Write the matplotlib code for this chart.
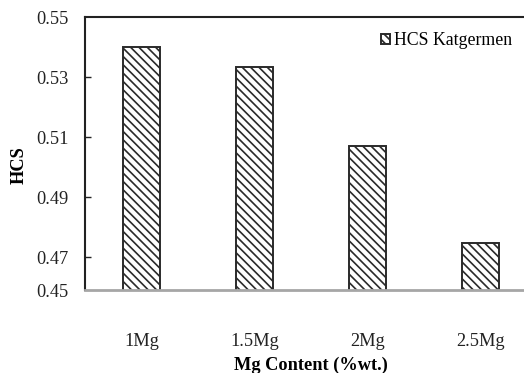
import numpy as np
import matplotlib
matplotlib.use("Agg")
import matplotlib.pyplot as plt

########### data ###########
categories = ["1Mg", "1.5Mg", "2Mg", "2.5Mg"]
hcs_values = [0.540, 0.5335, 0.507, 0.4748]
series_name = "HCS Katgermen"
y_ticks = [0.459, 0.47, 0.49, 0.51, 0.53, 0.55]
y_tick_labels = ["0.45", "0.47", "0.49", "0.51", "0.53", "0.55"]
############################

plt.rcParams['font.family'] = ['Liberation Serif', 'DejaVu Serif']
plt.rcParams['hatch.linewidth'] = 1.2
plt.rcParams['hatch.color'] = "#2a2a2a"

fig = plt.figure(figsize=(5.24, 3.73), dpi=100)
# axes runs past the right edge like the reference crop
ax = fig.add_axes([85 / 524, 83 / 373, 452 / 524, 273 / 373])

x = np.arange(len(categories))
ax.bar(x, hcs_values, width=0.32, color="white", edgecolor="#2a2a2a",
       linewidth=1.4, hatch="\\\\\\\\", label=series_name, zorder=2)

ax.set_xlim(-0.5, len(categories) - 0.5)
ax.set_ylim(y_ticks[0], 0.55)
ax.set_yticks(y_ticks)
ax.set_yticklabels(y_tick_labels)
ax.set_xticks(x)
ax.set_xticklabels(categories)

fs = 13.2
ax.tick_params(axis="y", direction="in", length=4, width=1, pad=12,
               labelsize=fs, colors="#222222")
ax.tick_params(axis="x", length=0, pad=31, labelsize=fs, colors="#222222")
# no tick marks at the ends
yt = ax.yaxis.get_major_ticks()
yt[0].tick1line.set_visible(False)
yt[-1].tick1line.set_visible(False)

for s in ["left", "top"]:
    ax.spines[s].set_color("#222222")
    ax.spines[s].set_linewidth(1.5)
ax.spines["right"].set_visible(False)
ax.spines["bottom"].set_color("#a6a6a6")
ax.spines["bottom"].set_linewidth(2)

ax.set_ylabel("HCS", fontsize=fs, fontweight="bold")
ax.yaxis.set_label_coords(-0.126, 0.458)
ax.set_xlabel("Mg Content (%wt.)", fontsize=fs, fontweight="bold")
ax.xaxis.set_label_coords(0.5, -0.245)

ax.legend(loc="upper left", bbox_to_anchor=(0.655, 0.945), frameon=False,
          fontsize=12.8, handlelength=0.5, handleheight=0.5,
          handletextpad=0.2, borderaxespad=0, borderpad=0)

fig.savefig("out.png", dpi=100)
